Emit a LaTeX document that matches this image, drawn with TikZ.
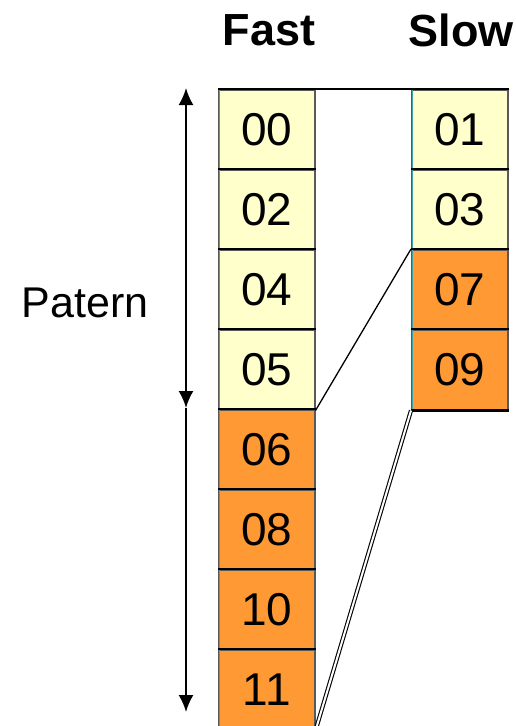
\documentclass[tikz,border=0pt]{standalone}
\usepackage{fontspec}
\setmainfont{Liberation Sans}
\usetikzlibrary{arrows.meta}
\definecolor{cellyellow}{HTML}{FFFFCC}
\definecolor{cellorange}{HTML}{FF9933}
\definecolor{edgeteal}{HTML}{3FA0A8}
\tikzset{
  cell/.style={minimum width=96pt, minimum height=80pt, inner sep=0pt, draw=black!65, line width=1.5pt, font=\fontsize{46}{46}\selectfont, anchor=north west},
  ycell/.style={cell, fill=cellyellow},
  ocell/.style={cell, fill=cellorange},
  sep/.style={line width=2.8pt, black},
  conn/.style={line width=1.3pt, black},
  dconn/.style={double=white, double distance=2pt, line width=1.1pt, black},
  arr/.style={line width=2pt, black},
  head/.style={font=\bfseries\fontsize{45}{45}\selectfont},
  lab/.style={font=\fontsize{43}{43}\selectfont}
}
\begin{document}
\begin{tikzpicture}[x=1pt, y=-1pt]
\clip (0,0) rectangle (516,726);
% Fast column
\node[ycell] (f00) at (218,89) {00};
\node[ycell] (f02) at (218,169) {02};
\node[ycell] (f04) at (218,249) {04};
\node[ycell] (f05) at (218,329) {05};
\node[ocell] (f06) at (218,409) {06};
\node[ocell] (f08) at (218,489) {08};
\node[ocell] (f10) at (218,569) {10};
\node[ocell] (f11) at (218,649) {11};
% Slow column
\node[ycell] (s01) at (411,89) {01};
\node[ycell] (s03) at (411,169) {03};
\node[ocell] (s07) at (411,249) {07};
\node[ocell] (s09) at (411,329) {09};
% teal inner left edges
\draw[edgeteal, line width=1pt] ([xshift=1.5pt]f00.north west) -- ([xshift=1.5pt]f11.south west);
\draw[edgeteal, line width=1pt] ([xshift=1.5pt]s01.north west) -- ([xshift=1.5pt]s09.south west);
% separators
\foreach \c in {f00,f02,f04,f05,f06,f08,f10,f11,s01,s03,s07,s09}{
  \draw[sep] (\c.north west) -- (\c.north east);
}
\draw[sep] (s09.south west) -- (s09.south east);
% connectors
\draw[sep] (f00.north east) -- (s01.north west);
\draw[conn] (f05.south east) -- (s07.north west);
\draw[dconn] (s09.south west) -- (f11.south east);
% headings
\node[head] (fast) at (269,30) {Fast};
\node[head] (slow) at (461,30) {Slow};
\node[lab] (patern) at (85,303) {Patern};
% arrows
\coordinate (atop) at (186,88);
\coordinate (amid) at (186,408);
\coordinate (abot) at (186,712);
\draw[arr, {Latex[length=17pt, width=15pt]}-{Latex[length=17pt, width=15pt]}] (atop) -- (amid);
\draw[arr, -{Latex[length=17pt, width=15pt]}] (amid) -- (abot);
\end{tikzpicture}
\end{document}
